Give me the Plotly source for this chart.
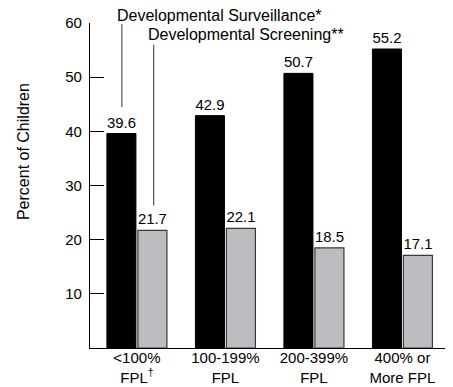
import plotly.graph_objects as go

# income groups (federal poverty level)
categories = ['<100%<br>FPL<sup>†</sup>', '100-199%<br>FPL', '200-399%<br>FPL', '400% or<br>More FPL']
surveillance = [39.6, 42.9, 50.7, 55.2]
screening = [21.7, 22.1, 18.5, 17.1]
y_ticks = [10, 20, 30, 40, 50, 60]

FONT = 'Liberation Sans, Arial, sans-serif'

fig = go.Figure()
fig.add_trace(go.Bar(x=list(range(4)), y=surveillance,
                     name='Developmental Surveillance*',
                     marker=dict(color='#000000', line=dict(color='#000000', width=1)),
                     texttemplate='%{y:.1f}', textposition='outside',
                     textfont=dict(size=15, color='#000000'),
                     cliponaxis=False))
fig.add_trace(go.Bar(x=list(range(4)), y=screening,
                     name='Developmental Screening**',
                     marker=dict(color='#bcbdc0', line=dict(color='#3a3a3a', width=1.2)),
                     texttemplate='%{y:.1f}', textposition='outside',
                     textfont=dict(size=15, color='#000000'),
                     cliponaxis=False))

# leader lines from the series labels down to the first group
fig.add_shape(type='line', xref='x', yref='y', x0=-0.17, x1=-0.17, y0=59.8, y1=44.5,
              line=dict(color='#333333', width=1))
fig.add_shape(type='line', xref='x', yref='y', x0=0.19, x1=0.19, y0=56.0, y1=26.3,
              line=dict(color='#333333', width=1))
fig.add_annotation(x=-0.25, y=1.022, xref='x', yref='paper', text='Developmental Surveillance*',
                   showarrow=False, xanchor='left', yanchor='middle',
                   font=dict(size=16, color='#000000'))
fig.add_annotation(x=0.10, y=57.8, xref='x', yref='y', text='Developmental Screening**',
                   showarrow=False, xanchor='left', yanchor='middle',
                   font=dict(size=16, color='#000000'))
fig.add_annotation(x=-0.185, y=0.603, xref='paper', yref='paper', text='Percent of Children',
                   showarrow=False, textangle=-90, xanchor='center', yanchor='middle',
                   font=dict(size=16, color='#000000'))

# the page body adds an 8px margin, so the figure is 8px smaller each way
fig.update_layout(
    width=445, height=379,
    margin=dict(l=82, r=1, t=15, b=39),
    paper_bgcolor='white', plot_bgcolor='white',
    font=dict(family=FONT, size=15, color='#000000'),
    showlegend=False,
    barmode='group', bargap=0.30, bargroupgap=0.063,
)
fig.update_xaxes(range=[-0.53, 3.56], tickvals=list(range(4)), ticktext=categories,
                 showline=True, linecolor='#000000', linewidth=1.3,
                 ticks='', showgrid=False, zeroline=False, automargin=False,
                 tickfont=dict(size=15), ticklabelstandoff=-4)
fig.update_yaxes(range=[0, 60], tickvals=y_ticks,
                 showline=True, linecolor='#000000', linewidth=1.3,
                 ticks='inside', ticklen=14, tickwidth=1.3, tickcolor='#000000',
                 showgrid=False, zeroline=False, automargin=False,
                 tickfont=dict(size=15), ticklabelstandoff=4)

fig.write_html('out.html')
